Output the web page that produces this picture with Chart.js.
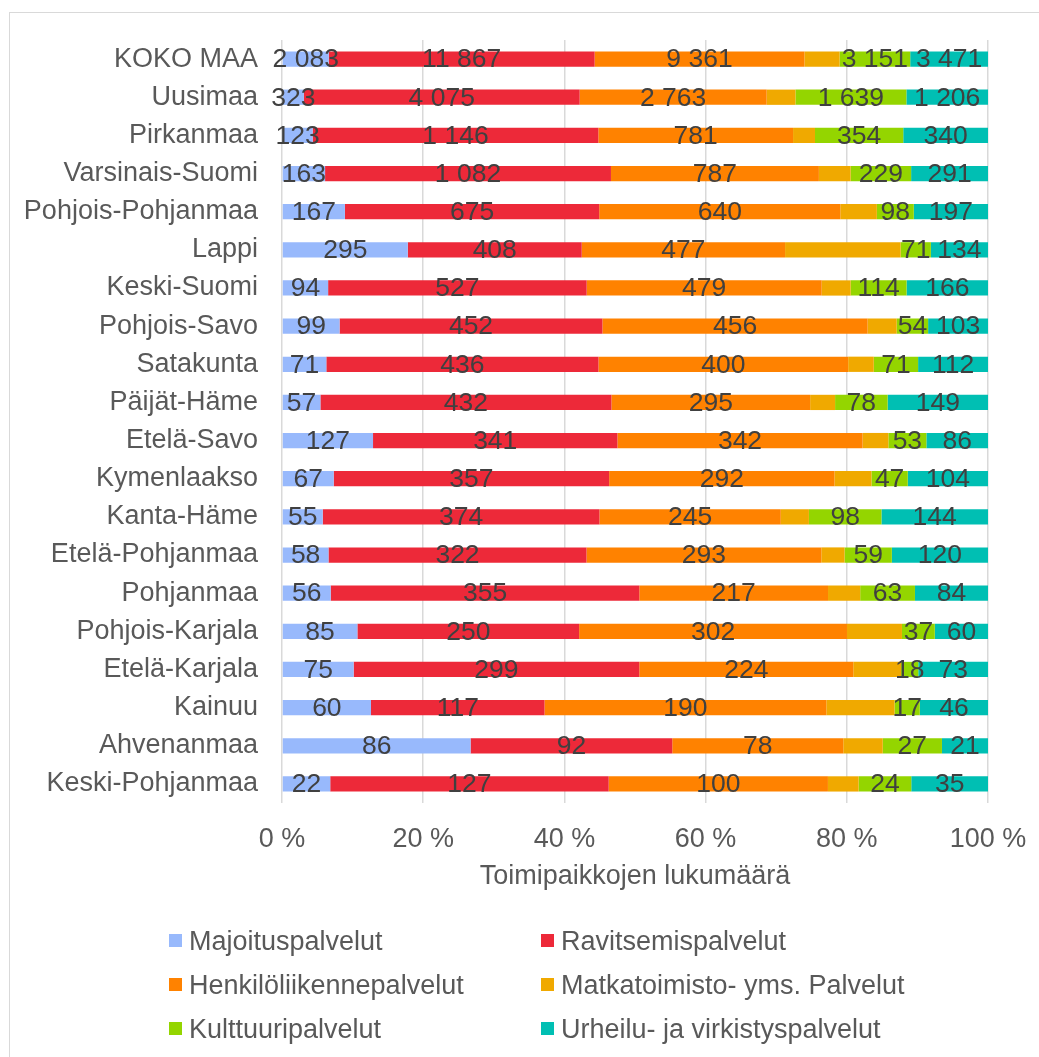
<!DOCTYPE html>
<html>
<head>
<meta charset="utf-8">
<script src="https://cdn.jsdelivr.net/npm/chart.js@4"></script>
<style>
  html, body { margin: 0; padding: 0; background: #fff; overflow: hidden; }
  #wrap { position: relative; width: 1039px; height: 1057px; }
  #frame { position: absolute; left: 9px; top: 12px; width: 1100px; height: 1100px; border: 1px solid #d9d9d9; }
  #chart { position: absolute; left: 0; top: 0; }
  #legend { position: absolute; left: 0; top: 0; width: 1039px; height: 1057px; pointer-events: none;
    font-family: 'Liberation Sans', Arial, sans-serif; font-size: 27px; color: #595959; }
  .item { position: absolute; height: 30px; line-height: 30px; white-space: nowrap; }
  .item span.box { position: absolute; left: 0; top: 8px; width: 13px; height: 13px; }
  .item span.txt { position: absolute; left: 20px; top: 0; }
</style>
</head>
<body>
<div id="wrap">
  <div id="frame"></div>
  <canvas id="chart" width="1039" height="1057"></canvas>
  <div id="legend"></div>
</div>
<script>
// maakunnat, ylhäältä alas
const categories = ['KOKO MAA', 'Uusimaa', 'Pirkanmaa', 'Varsinais-Suomi', 'Pohjois-Pohjanmaa', 'Lappi',
  'Keski-Suomi', 'Pohjois-Savo', 'Satakunta', 'Päijät-Häme', 'Etelä-Savo', 'Kymenlaakso', 'Kanta-Häme',
  'Etelä-Pohjanmaa', 'Pohjanmaa', 'Pohjois-Karjala', 'Etelä-Karjala', 'Kainuu', 'Ahvenanmaa', 'Keski-Pohjanmaa'];

const majoitus   = [2083, 323, 123, 163, 167, 295, 94, 99, 71, 57, 127, 67, 55, 58, 56, 85, 75, 60, 86, 22];
const ravitsemis = [11867, 4075, 1146, 1082, 675, 408, 527, 452, 436, 432, 341, 357, 374, 322, 355, 250, 299, 117, 92, 127];
const henkilo    = [9361, 2763, 781, 787, 640, 477, 479, 456, 400, 295, 342, 292, 245, 293, 217, 302, 224, 190, 78, 100];
const matka      = [1570, 425, 88, 120, 97, 271, 59, 50, 41, 37, 36, 48, 38, 29, 37, 62, 50, 46, 18, 14];
const kulttuuri  = [3151, 1639, 354, 229, 98, 71, 114, 54, 71, 78, 53, 47, 98, 59, 63, 37, 18, 17, 27, 24];
const urheilu    = [3471, 1206, 340, 291, 197, 134, 166, 103, 112, 149, 86, 104, 144, 120, 84, 60, 73, 46, 21, 35];

const xTicks = [0, 20, 40, 60, 80, 100];

const series = [
  { label: 'Majoituspalvelut', data: majoitus, color: '#98b9fc', labels: true },
  { label: 'Ravitsemispalvelut', data: ravitsemis, color: '#ed2939', labels: true },
  { label: 'Henkilöliikennepalvelut', data: henkilo, color: '#ff8200', labels: true },
  { label: 'Matkatoimisto- yms. Palvelut', data: matka, color: '#f0a900', labels: false },
  { label: 'Kulttuuripalvelut', data: kulttuuri, color: '#94d500', labels: true },
  { label: 'Urheilu- ja virkistyspalvelut', data: urheilu, color: '#00bfb3', labels: true }
];

const totals = categories.map((c, i) => series.reduce((s, d) => s + d.data[i], 0));

const FONT = "'Liberation Sans', Arial, sans-serif";

function fmt(n) {
  return String(n).replace(/\B(?=(\d{3})+(?!\d))/g, ' ');
}

// luvut palkkien keskelle
const countLabels = {
  id: 'countLabels',
  afterDatasetsDraw(chart) {
    const ctx = chart.ctx;
    ctx.save();
    ctx.font = '26.5px ' + FONT;
    ctx.fillStyle = '#404040';
    ctx.textAlign = 'center';
    ctx.textBaseline = 'middle';
    chart.data.datasets.forEach((ds, di) => {
      if (!ds.showCounts) return;
      chart.getDatasetMeta(di).data.forEach((bar, i) => {
        const p = bar.getProps(['x', 'y', 'base'], true);
        ctx.fillText(fmt(ds.counts[i]), (p.x + p.base) / 2, p.y + 1);
      });
    });
    ctx.restore();
  }
};

new Chart(document.getElementById('chart'), {
  type: 'bar',
  data: {
    labels: categories,
    datasets: series.map(s => ({
      label: s.label,
      data: s.data.map((v, i) => v / totals[i] * 100),
      counts: s.data,
      showCounts: s.labels,
      backgroundColor: s.color,
      borderWidth: 0,
      barPercentage: 0.4,
      categoryPercentage: 1
    }))
  },
  options: {
    indexAxis: 'y',
    responsive: false,
    animation: false,
    layout: { padding: { top: 40, right: 51, bottom: 164, left: 0 } },
    plugins: { legend: { display: false }, tooltip: { enabled: false } },
    scales: {
      x: {
        stacked: true,
        min: 0,
        max: 100,
        afterBuildTicks: s => { s.ticks = xTicks.map(v => ({ value: v })); },
        afterFit: s => { s.height = 90; s.paddingLeft = 0; s.paddingRight = 0; },
        grid: { color: '#d9d9d9', lineWidth: 1.5, drawTicks: false },
        border: { display: false },
        ticks: { padding: 20, color: '#595959', font: { family: FONT, size: 27 }, callback: v => v + ' %' },
        title: { display: true, text: 'Toimipaikkojen lukumäärä', color: '#595959',
          font: { family: FONT, size: 27 }, padding: { top: 0, bottom: 0 } }
      },
      y: {
        stacked: true,
        afterFit: s => { s.width = 282; s.paddingTop = 0; s.paddingBottom = 0; },
        grid: { display: false, drawTicks: false },
        border: { display: false },
        ticks: { padding: 24, color: '#595959', font: { family: FONT, size: 27 } }
      }
    }
  },
  plugins: [countLabels]
});

// selite kahteen sarakkeeseen
const legend = document.getElementById('legend');
const colX = [169, 541];
const rowY = [941, 985, 1029];
series.forEach((s, i) => {
  const el = document.createElement('div');
  el.className = 'item';
  el.style.left = colX[i % 2] + 'px';
  el.style.top = (rowY[Math.floor(i / 2)] - 15) + 'px';
  el.innerHTML = '<span class="box" style="background:' + s.color + '"></span><span class="txt"></span>';
  el.querySelector('.txt').textContent = s.label;
  legend.appendChild(el);
});
</script>
</body>
</html>
